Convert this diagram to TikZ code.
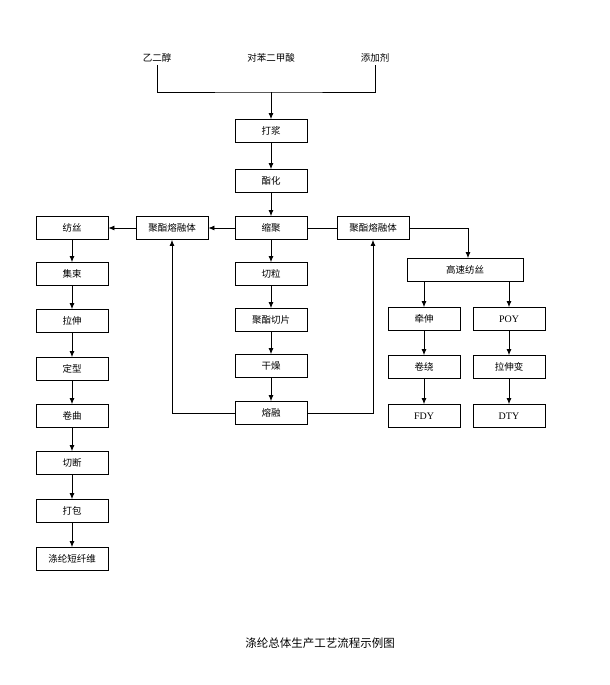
\documentclass[tikz,border=0pt]{standalone}
\usepackage{fontspec}
\setmainfont{Liberation Serif}
\newfontfamily\cjk{Noto Sans CJK SC}
\usetikzlibrary{positioning,arrows.meta}

\tikzset{
    procbox/.style={draw,rectangle,minimum width=72pt,minimum height=23pt,inner sep=1pt,font=\cjk\fontsize{9.5}{10}\selectfont},
    latinbox/.style={procbox,font=\fontsize{10}{10}\selectfont},
    rawtext/.style={inner sep=2pt,font=\cjk\fontsize{9.5}{10}\selectfont},
    flow/.style={-{Latex[length=6pt,width=5pt]}},
}

\begin{document}
\begin{tikzpicture}[x=1pt,y=-1pt,line width=0.8pt]
    \useasboundingbox[fill=white] (0,0) rectangle (610,685);

    % Raw materials
    \node[rawtext] (eg) at (157,58) {乙二醇};
    \node[rawtext] (pta) at (271,58) {对苯二甲酸};
    \node[rawtext] (add) at (375,58) {添加剂};
    \coordinate (join) at (271,92);
    \draw (eg.south) |- (join) -| (add.south);

    % Main column
    \node[procbox] (dj) at (271,131) {打浆};
    \node[procbox] (zh) at (271,181) {酯化};
    \node[procbox] (sj) at (271,228) {缩聚};
    \node[procbox] (ql) at (271,274) {切粒};
    \node[procbox] (qp) at (271,320) {聚酯切片};
    \node[procbox] (gz) at (271,366) {干燥};
    \node[procbox] (rr) at (271,413) {熔融};
    \draw[flow] (join) -- (dj.north);
    \foreach \a/\b in {dj/zh,zh/sj,sj/ql,ql/qp,qp/gz,gz/rr}
        \draw[flow] (\a.south) -- (\b.north);

    % Staple fibre line
    \node[procbox] (meltL) at (172,228) {聚酯熔融体};
    \node[procbox] (fs) at (72,228) {纺丝};
    \node[procbox] (js) at (72,274) {集束};
    \node[procbox] (ls) at (72,321) {拉伸};
    \node[procbox] (dx) at (72,369) {定型};
    \node[procbox] (jq) at (72,416) {卷曲};
    \node[procbox] (qd) at (72,463) {切断};
    \node[procbox] (db) at (72,511) {打包};
    \node[procbox] (dxw) at (72,559) {涤纶短纤维};
    \draw[flow] (sj.west) -- (meltL.east);
    \draw[flow] (meltL.west) -- (fs.east);
    \draw[flow] (rr.west) -| (meltL.south);
    \foreach \a/\b in {fs/js,js/ls,ls/dx,dx/jq,jq/qd,qd/db,db/dxw}
        \draw[flow] (\a.south) -- (\b.north);

    % Filament line
    \node[procbox] (meltR) at (373,228) {聚酯熔融体};
    \node[procbox,minimum width=116pt] (gs) at (465,270) {高速纺丝};
    \node[procbox] (qs) at (424,319) {牵伸};
    \node[procbox] (jr) at (424,367) {卷绕};
    \node[latinbox] (fdy) at (424,416) {FDY};
    \node[latinbox] (poy) at (509,319) {POY};
    \node[procbox] (lsb) at (509,367) {拉伸变};
    \node[latinbox] (dty) at (509,416) {DTY};
    \draw (sj.east) -- (meltR.west);
    \draw[flow] (rr.east) -| (meltR.south);
    \draw[flow] (meltR.east) -| ([xshift=3pt]gs.north);
    \draw[flow] (gs.south -| qs.north) -- (qs.north);
    \draw[flow] (gs.south -| poy.north) -- (poy.north);
    \foreach \a/\b in {qs/jr,jr/fdy,poy/lsb,lsb/dty}
        \draw[flow] (\a.south) -- (\b.north);

    % Caption
    \node[font=\cjk\fontsize{11.5}{13}\selectfont] (cap) at (320,643) {涤纶总体生产工艺流程示例图};
\end{tikzpicture}
\end{document}
